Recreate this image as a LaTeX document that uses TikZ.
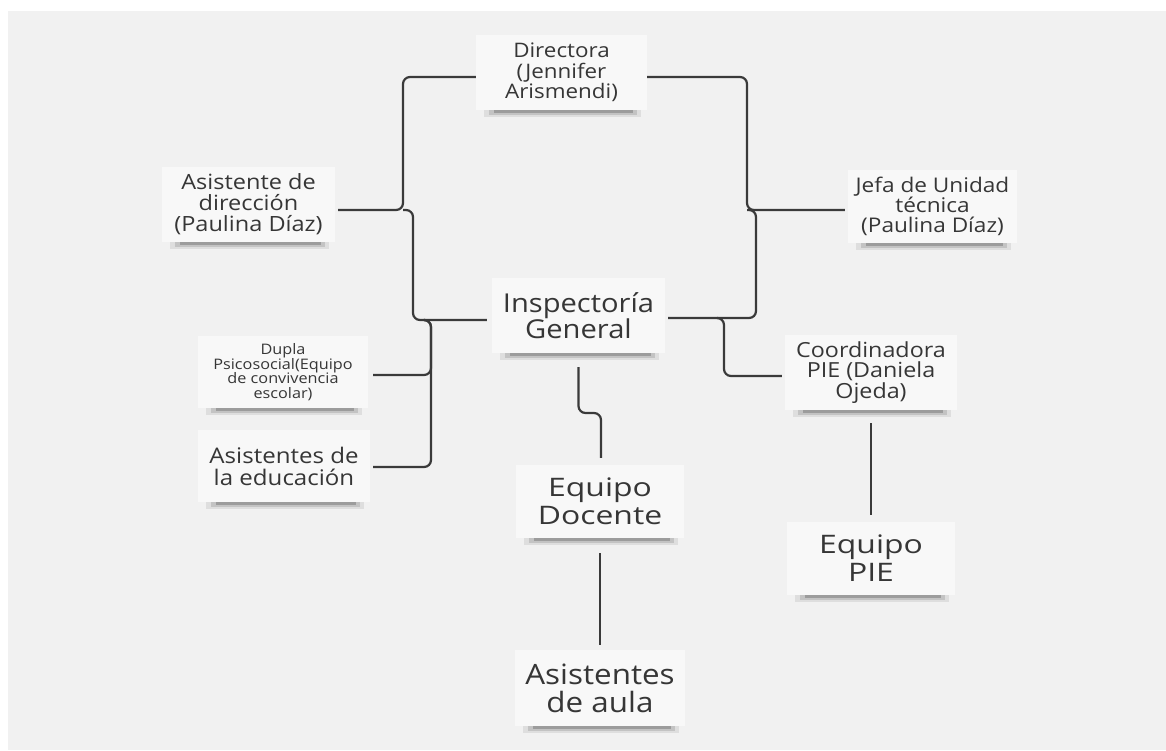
\documentclass[tikz,border=0pt]{standalone}
\usepackage{fontspec}
\setmainfont{Open Sans}[FakeStretch=1.12]
\newfontfamily\widefont{Open Sans}[FakeStretch=1.25]
\pgfdeclarelayer{back}\pgfdeclarelayer{shad}
\pgfsetlayers{back,shad,main}
\definecolor{bgc}{HTML}{F1F1F1}
\definecolor{cardc}{HTML}{F8F8F8}
\definecolor{txtc}{HTML}{363636}
\definecolor{linec}{HTML}{3A3A3A}
\tikzset{
  card/.style n args={2}{fill=cardc,text=txtc,align=center,inner sep=0pt,
    minimum width=#1,minimum height=#2},
  conn/.style={draw=linec,line width=2.2pt,rounded corners=7pt}
}
\newcommand\cshadow[1]{%
 \begin{pgfonlayer}{shad}
 \fill[black,opacity=0.08] ([xshift=8pt,yshift=2pt]#1.south west) rectangle ([xshift=-6pt,yshift=-6.5pt]#1.south east);
 \fill[black,opacity=0.12] ([xshift=13pt,yshift=2pt]#1.south west) rectangle ([xshift=-10pt,yshift=-4.5pt]#1.south east);
 \fill[black,opacity=0.20] ([xshift=18pt,yshift=2pt]#1.south west) rectangle ([xshift=-14pt,yshift=-2.5pt]#1.south east);
 \end{pgfonlayer}}
\begin{document}
\begin{tikzpicture}[x=1pt,y=-1pt]
\useasboundingbox (0,0) rectangle (1166,750);
\begin{pgfonlayer}{back}\fill[bgc] (8,11) rectangle (1166,750);\end{pgfonlayer}

\node[card={171pt}{75pt},font={\fontsize{20}{20.5}\selectfont}] (dir) at (561.5,72.5) {Directora\\(Jennifer\\Arismendi)};
\node[card={173pt}{75pt},font={\fontsize{21}{21}\selectfont}] (adir) at (248.5,204.5) {Asistente de\\dirección\\(Paulina Díaz)};
\node[card={169pt}{73pt},font={\fontsize{20.2}{20}\selectfont}] (jefa) at (932.5,206.5) {Jefa de Unidad\\técnica\\(Paulina Díaz)};
\node[card={173pt}{75pt},font={\fontsize{26}{26}\selectfont}] (insp) at (578.5,315.5) {Inspectoría\\General};
\node[card={170pt}{72pt},font={\fontsize{14.5}{14.5}\selectfont}] (dupla) at (283,372) {Dupla\\Psicosocial(Equipo\\de convivencia\\escolar)};
\node[card={172pt}{72pt},font={\fontsize{21.5}{22}\selectfont}] (aedu) at (284,466) {Asistentes de\\la educación};
\node[card={168pt}{73pt},font={\widefont\fontsize{25.5}{28}\selectfont}] (doc) at (600,501.5) {Equipo\\Docente};
\node[card={170pt}{76pt},font={\fontsize{28}{28}\selectfont}] (aula) at (600,688) {Asistentes\\de aula};
\node[card={172pt}{75pt},font={\fontsize{20.8}{20.5}\selectfont}] (coord) at (871,372.5) {Coordinadora\\PIE (Daniela\\Ojeda)};
\node[card={168pt}{73pt},font={\widefont\fontsize{25.5}{28}\selectfont}] (pie) at (871,558.5) {Equipo\\PIE};

\foreach \n in {dir,adir,jefa,insp,dupla,aedu,doc,aula,coord,pie}{\cshadow{\n}}

\coordinate (jL) at (403,210);
\coordinate (kL) at (413,320);
\coordinate (jD) at (431,320);
\coordinate (kD) at (431,375);
\coordinate (kE) at (431,467);
\coordinate (jR) at (747,210);
\coordinate (kR) at (756,318);
\coordinate (jC) at (724,318);
\coordinate (kC) at (724,376);
\coordinate (jDoc) at (601,413);

\draw[conn] ([yshift=-4.5pt]dir.west) -| (jL) -- ([xshift=3pt]adir.east |- jL);
\draw[conn] (jL) -| (kL) -- ([xshift=-5pt]insp.west |- kL);
\draw[conn] ([xshift=-6pt]jD) -| (kD) -- ([xshift=5pt]dupla.east |- kD);
\draw[conn] ([xshift=-6pt]jD) -| (kE) -- ([xshift=3pt]aedu.east |- kE);
\draw[conn] ([yshift=-4.5pt]dir.east) -| (jR) -- ([xshift=-3pt]jefa.west |- jR);
\draw[conn] (jR) -| (kR) -- ([xshift=3pt]insp.east |- kR);
\draw[conn] ([xshift=-6pt]jC) -| (kC) -- ([xshift=-3pt]coord.west |- kC);
\draw[conn] ([yshift=-14pt]insp.south) |- (jDoc) -- ([yshift=7pt]jDoc |- doc.north);
\draw[conn] ([yshift=-15pt]doc.south) -- ([yshift=5pt]aula.north);
\draw[conn] ([yshift=-13pt]coord.south) -- ([yshift=7pt]pie.north);
\end{tikzpicture}
\end{document}
